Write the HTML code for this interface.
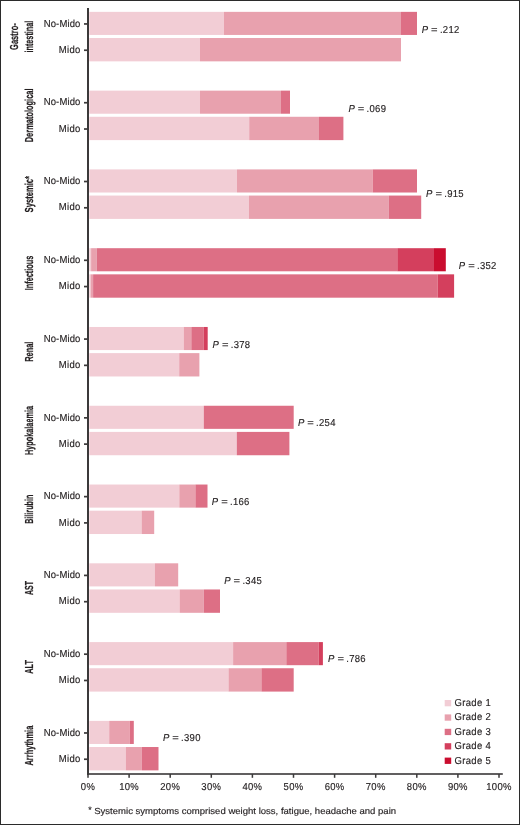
<!DOCTYPE html>
<html><head><meta charset="utf-8"><style>
html,body{margin:0;padding:0;background:#fff;}
body{width:520px;height:825px;overflow:hidden;position:relative;}
svg{display:block;position:absolute;left:0;top:0;will-change:transform;}
text{text-rendering:geometricPrecision;font-family:"Liberation Sans",sans-serif;fill:#231f20;stroke:#231f20;stroke-width:0.15px;}
</style></head><body>
<svg width="520" height="825" viewBox="0 0 520 825">
<rect x="0" y="0" width="520" height="825" fill="#fff"/>

<rect x="89.3" y="11.85" width="134.7" height="23.1" fill="#f2cdd5"/>
<rect x="224" y="11.85" width="177" height="23.1" fill="#e8a1ae"/>
<rect x="401" y="11.85" width="16" height="23.1" fill="#dd6f85"/>
<rect x="89.3" y="38" width="110.7" height="23.35" fill="#f2cdd5"/>
<rect x="200" y="38" width="201" height="23.35" fill="#e8a1ae"/>
<rect x="84.0" y="23.1" width="3.8" height="1.7" fill="#3b393a"/>
<rect x="84.0" y="49.38" width="3.8" height="1.7" fill="#3b393a"/>
<text transform="translate(80.6 26.6) scale(0.94 1)" font-size="10.1" letter-spacing="0.32" text-anchor="end" textLength="39.21" lengthAdjust="spacing">No-Mido</text>
<text transform="translate(80.6 52.88) scale(0.94 1)" font-size="10.1" letter-spacing="0.32" text-anchor="end">Mido</text>
<text transform="translate(421.7 32.6) scale(0.94 1)" font-size="10.1" letter-spacing="0.32" font-style="italic">P</text>
<text transform="translate(431.1 32.6) scale(1.11 1)" font-size="10.1" letter-spacing="0.32">=</text>
<text transform="translate(439.9 32.6) scale(0.94 1)" font-size="10.1" letter-spacing="0.32">.212</text>
<text transform="translate(17.8 36.6) rotate(-90)" font-size="11.6" font-weight="bold" text-anchor="middle" style="stroke-width:0.22px" textLength="26.6" lengthAdjust="spacingAndGlyphs">Gastro-</text>
<text transform="translate(32.8 36.6) rotate(-90)" font-size="11.6" font-weight="bold" text-anchor="middle" style="stroke-width:0.22px" textLength="32" lengthAdjust="spacingAndGlyphs">intestinal</text>
<rect x="89.3" y="90.63" width="110.7" height="23.1" fill="#f2cdd5"/>
<rect x="200" y="90.63" width="81" height="23.1" fill="#e8a1ae"/>
<rect x="281" y="90.63" width="9" height="23.1" fill="#dd6f85"/>
<rect x="89.3" y="116.78" width="159.9" height="23.35" fill="#f2cdd5"/>
<rect x="249.2" y="116.78" width="69.8" height="23.35" fill="#e8a1ae"/>
<rect x="319" y="116.78" width="24.4" height="23.35" fill="#dd6f85"/>
<rect x="84.0" y="101.88" width="3.8" height="1.7" fill="#3b393a"/>
<rect x="84.0" y="128.16" width="3.8" height="1.7" fill="#3b393a"/>
<text transform="translate(80.6 105.38) scale(0.94 1)" font-size="10.1" letter-spacing="0.32" text-anchor="end" textLength="39.21" lengthAdjust="spacing">No-Mido</text>
<text transform="translate(80.6 131.65) scale(0.94 1)" font-size="10.1" letter-spacing="0.32" text-anchor="end">Mido</text>
<text transform="translate(348.4 111.53) scale(0.94 1)" font-size="10.1" letter-spacing="0.32" font-style="italic">P</text>
<text transform="translate(357.8 111.53) scale(1.11 1)" font-size="10.1" letter-spacing="0.32">=</text>
<text transform="translate(366.6 111.53) scale(0.94 1)" font-size="10.1" letter-spacing="0.32">.069</text>
<text transform="translate(32.8 115.38) rotate(-90)" font-size="11.6" font-weight="bold" text-anchor="middle" style="stroke-width:0.22px" textLength="53.8" lengthAdjust="spacingAndGlyphs">Dermatological</text>
<rect x="89.3" y="169.41" width="147.7" height="23.1" fill="#f2cdd5"/>
<rect x="237" y="169.41" width="135.7" height="23.1" fill="#e8a1ae"/>
<rect x="372.7" y="169.41" width="44.3" height="23.1" fill="#dd6f85"/>
<rect x="89.3" y="195.56" width="159.7" height="23.35" fill="#f2cdd5"/>
<rect x="249" y="195.56" width="139.8" height="23.35" fill="#e8a1ae"/>
<rect x="388.8" y="195.56" width="32.4" height="23.35" fill="#dd6f85"/>
<rect x="84.0" y="180.66" width="3.8" height="1.7" fill="#3b393a"/>
<rect x="84.0" y="206.94" width="3.8" height="1.7" fill="#3b393a"/>
<text transform="translate(80.6 184.16) scale(0.94 1)" font-size="10.1" letter-spacing="0.32" text-anchor="end" textLength="39.21" lengthAdjust="spacing">No-Mido</text>
<text transform="translate(80.6 210.44) scale(0.94 1)" font-size="10.1" letter-spacing="0.32" text-anchor="end">Mido</text>
<text transform="translate(426 196.86) scale(0.94 1)" font-size="10.1" letter-spacing="0.32" font-style="italic">P</text>
<text transform="translate(435.4 196.86) scale(1.11 1)" font-size="10.1" letter-spacing="0.32">=</text>
<text transform="translate(444.2 196.86) scale(0.94 1)" font-size="10.1" letter-spacing="0.32">.915</text>
<text transform="translate(32.8 194.16) rotate(-90)" font-size="11.6" font-weight="bold" text-anchor="middle" style="stroke-width:0.22px" textLength="36.5" lengthAdjust="spacingAndGlyphs">Systemic*</text>
<rect x="89.3" y="248.19" width="1.8" height="23.1" fill="#f2cdd5"/>
<rect x="91.1" y="248.19" width="5.7" height="23.1" fill="#e8a1ae"/>
<rect x="96.8" y="248.19" width="300.5" height="23.1" fill="#dd6f85"/>
<rect x="397.3" y="248.19" width="36.7" height="23.1" fill="#d43f5d"/>
<rect x="434" y="248.19" width="11.8" height="23.1" fill="#ca0d2f"/>
<rect x="89.3" y="274.34" width="1.3" height="23.35" fill="#f2cdd5"/>
<rect x="90.6" y="274.34" width="2.5" height="23.35" fill="#e8a1ae"/>
<rect x="93.1" y="274.34" width="344.5" height="23.35" fill="#dd6f85"/>
<rect x="437.6" y="274.34" width="16.5" height="23.35" fill="#d43f5d"/>
<rect x="84.0" y="259.44" width="3.8" height="1.7" fill="#3b393a"/>
<rect x="84.0" y="285.71" width="3.8" height="1.7" fill="#3b393a"/>
<text transform="translate(80.6 262.94) scale(0.94 1)" font-size="10.1" letter-spacing="0.32" text-anchor="end" textLength="39.21" lengthAdjust="spacing">No-Mido</text>
<text transform="translate(80.6 289.21) scale(0.94 1)" font-size="10.1" letter-spacing="0.32" text-anchor="end">Mido</text>
<text transform="translate(458.8 268.59) scale(0.94 1)" font-size="10.1" letter-spacing="0.32" font-style="italic">P</text>
<text transform="translate(468.2 268.59) scale(1.11 1)" font-size="10.1" letter-spacing="0.32">=</text>
<text transform="translate(477 268.59) scale(0.94 1)" font-size="10.1" letter-spacing="0.32">.352</text>
<text transform="translate(32.8 272.94) rotate(-90)" font-size="11.6" font-weight="bold" text-anchor="middle" style="stroke-width:0.22px" textLength="34.5" lengthAdjust="spacingAndGlyphs">Infectious</text>
<rect x="89.3" y="326.97" width="94.4" height="23.1" fill="#f2cdd5"/>
<rect x="183.7" y="326.97" width="7.6" height="23.1" fill="#e8a1ae"/>
<rect x="191.3" y="326.97" width="12.5" height="23.1" fill="#dd6f85"/>
<rect x="203.8" y="326.97" width="3.9" height="23.1" fill="#d43f5d"/>
<rect x="89.3" y="353.12" width="89.9" height="23.35" fill="#f2cdd5"/>
<rect x="179.2" y="353.12" width="20.2" height="23.35" fill="#e8a1ae"/>
<rect x="84.0" y="338.22" width="3.8" height="1.7" fill="#3b393a"/>
<rect x="84.0" y="364.5" width="3.8" height="1.7" fill="#3b393a"/>
<text transform="translate(80.6 341.72) scale(0.94 1)" font-size="10.1" letter-spacing="0.32" text-anchor="end" textLength="39.21" lengthAdjust="spacing">No-Mido</text>
<text transform="translate(80.6 368) scale(0.94 1)" font-size="10.1" letter-spacing="0.32" text-anchor="end">Mido</text>
<text transform="translate(212.5 347.52) scale(0.94 1)" font-size="10.1" letter-spacing="0.32" font-style="italic">P</text>
<text transform="translate(221.9 347.52) scale(1.11 1)" font-size="10.1" letter-spacing="0.32">=</text>
<text transform="translate(230.7 347.52) scale(0.94 1)" font-size="10.1" letter-spacing="0.32">.378</text>
<text transform="translate(32.8 351.72) rotate(-90)" font-size="11.6" font-weight="bold" text-anchor="middle" style="stroke-width:0.22px" textLength="20.3" lengthAdjust="spacingAndGlyphs">Renal</text>
<rect x="89.3" y="405.75" width="114.5" height="23.1" fill="#f2cdd5"/>
<rect x="203.8" y="405.75" width="89.9" height="23.1" fill="#dd6f85"/>
<rect x="89.3" y="431.9" width="147.5" height="23.35" fill="#f2cdd5"/>
<rect x="236.8" y="431.9" width="52.6" height="23.35" fill="#dd6f85"/>
<rect x="84.0" y="417" width="3.8" height="1.7" fill="#3b393a"/>
<rect x="84.0" y="443.27" width="3.8" height="1.7" fill="#3b393a"/>
<text transform="translate(80.6 420.5) scale(0.94 1)" font-size="10.1" letter-spacing="0.32" text-anchor="end" textLength="39.21" lengthAdjust="spacing">No-Mido</text>
<text transform="translate(80.6 446.77) scale(0.94 1)" font-size="10.1" letter-spacing="0.32" text-anchor="end">Mido</text>
<text transform="translate(297.9 425.65) scale(0.94 1)" font-size="10.1" letter-spacing="0.32" font-style="italic">P</text>
<text transform="translate(307.3 425.65) scale(1.11 1)" font-size="10.1" letter-spacing="0.32">=</text>
<text transform="translate(316.1 425.65) scale(0.94 1)" font-size="10.1" letter-spacing="0.32">.254</text>
<text transform="translate(32.8 430.5) rotate(-90)" font-size="11.6" font-weight="bold" text-anchor="middle" style="stroke-width:0.22px" textLength="49" lengthAdjust="spacingAndGlyphs">Hypokalaemia</text>
<rect x="89.3" y="484.53" width="90" height="23.1" fill="#f2cdd5"/>
<rect x="179.3" y="484.53" width="16.1" height="23.1" fill="#e8a1ae"/>
<rect x="195.4" y="484.53" width="12.1" height="23.1" fill="#dd6f85"/>
<rect x="89.3" y="510.68" width="52.3" height="23.35" fill="#f2cdd5"/>
<rect x="141.6" y="510.68" width="12.6" height="23.35" fill="#e8a1ae"/>
<rect x="84.0" y="495.78" width="3.8" height="1.7" fill="#3b393a"/>
<rect x="84.0" y="522.05" width="3.8" height="1.7" fill="#3b393a"/>
<text transform="translate(80.6 499.28) scale(0.94 1)" font-size="10.1" letter-spacing="0.32" text-anchor="end" textLength="39.21" lengthAdjust="spacing">No-Mido</text>
<text transform="translate(80.6 525.56) scale(0.94 1)" font-size="10.1" letter-spacing="0.32" text-anchor="end">Mido</text>
<text transform="translate(211.8 504.98) scale(0.94 1)" font-size="10.1" letter-spacing="0.32" font-style="italic">P</text>
<text transform="translate(221.2 504.98) scale(1.11 1)" font-size="10.1" letter-spacing="0.32">=</text>
<text transform="translate(230 504.98) scale(0.94 1)" font-size="10.1" letter-spacing="0.32">.166</text>
<text transform="translate(32.8 509.28) rotate(-90)" font-size="11.6" font-weight="bold" text-anchor="middle" style="stroke-width:0.22px" textLength="29.1" lengthAdjust="spacingAndGlyphs">Bilirubin</text>
<rect x="89.3" y="563.31" width="65.5" height="23.1" fill="#f2cdd5"/>
<rect x="154.8" y="563.31" width="23.4" height="23.1" fill="#e8a1ae"/>
<rect x="89.3" y="589.46" width="90.3" height="23.35" fill="#f2cdd5"/>
<rect x="179.6" y="589.46" width="24.2" height="23.35" fill="#e8a1ae"/>
<rect x="203.8" y="589.46" width="16.2" height="23.35" fill="#dd6f85"/>
<rect x="84.0" y="574.56" width="3.8" height="1.7" fill="#3b393a"/>
<rect x="84.0" y="600.84" width="3.8" height="1.7" fill="#3b393a"/>
<text transform="translate(80.6 578.06) scale(0.94 1)" font-size="10.1" letter-spacing="0.32" text-anchor="end" textLength="39.21" lengthAdjust="spacing">No-Mido</text>
<text transform="translate(80.6 604.34) scale(0.94 1)" font-size="10.1" letter-spacing="0.32" text-anchor="end">Mido</text>
<text transform="translate(224.2 583.51) scale(0.94 1)" font-size="10.1" letter-spacing="0.32" font-style="italic">P</text>
<text transform="translate(233.6 583.51) scale(1.11 1)" font-size="10.1" letter-spacing="0.32">=</text>
<text transform="translate(242.4 583.51) scale(0.94 1)" font-size="10.1" letter-spacing="0.32">.345</text>
<text transform="translate(32.8 588.06) rotate(-90)" font-size="11.6" font-weight="bold" text-anchor="middle" style="stroke-width:0.22px" textLength="13.9" lengthAdjust="spacingAndGlyphs">AST</text>
<rect x="89.3" y="642.09" width="143.8" height="23.1" fill="#f2cdd5"/>
<rect x="233.1" y="642.09" width="53.2" height="23.1" fill="#e8a1ae"/>
<rect x="286.3" y="642.09" width="32.3" height="23.1" fill="#dd6f85"/>
<rect x="318.6" y="642.09" width="4.3" height="23.1" fill="#d43f5d"/>
<rect x="89.3" y="668.24" width="139.2" height="23.35" fill="#f2cdd5"/>
<rect x="228.5" y="668.24" width="32.9" height="23.35" fill="#e8a1ae"/>
<rect x="261.4" y="668.24" width="32.3" height="23.35" fill="#dd6f85"/>
<rect x="84.0" y="653.34" width="3.8" height="1.7" fill="#3b393a"/>
<rect x="84.0" y="679.62" width="3.8" height="1.7" fill="#3b393a"/>
<text transform="translate(80.6 656.84) scale(0.94 1)" font-size="10.1" letter-spacing="0.32" text-anchor="end" textLength="39.21" lengthAdjust="spacing">No-Mido</text>
<text transform="translate(80.6 683.12) scale(0.94 1)" font-size="10.1" letter-spacing="0.32" text-anchor="end">Mido</text>
<text transform="translate(328 662.2) scale(0.94 1)" font-size="10.1" letter-spacing="0.32" font-style="italic">P</text>
<text transform="translate(337.4 662.2) scale(1.11 1)" font-size="10.1" letter-spacing="0.32">=</text>
<text transform="translate(346.2 662.2) scale(0.94 1)" font-size="10.1" letter-spacing="0.32">.786</text>
<text transform="translate(32.8 666.84) rotate(-90)" font-size="11.6" font-weight="bold" text-anchor="middle" style="stroke-width:0.22px" textLength="13.8" lengthAdjust="spacingAndGlyphs">ALT</text>
<rect x="89.3" y="720.87" width="19.9" height="23.1" fill="#f2cdd5"/>
<rect x="109.2" y="720.87" width="20.5" height="23.1" fill="#e8a1ae"/>
<rect x="129.7" y="720.87" width="4.1" height="23.1" fill="#dd6f85"/>
<rect x="89.3" y="747.02" width="36.5" height="23.35" fill="#f2cdd5"/>
<rect x="125.8" y="747.02" width="16.1" height="23.35" fill="#e8a1ae"/>
<rect x="141.9" y="747.02" width="16.6" height="23.35" fill="#dd6f85"/>
<rect x="84.0" y="732.12" width="3.8" height="1.7" fill="#3b393a"/>
<rect x="84.0" y="758.39" width="3.8" height="1.7" fill="#3b393a"/>
<text transform="translate(80.6 735.62) scale(0.94 1)" font-size="10.1" letter-spacing="0.32" text-anchor="end" textLength="39.21" lengthAdjust="spacing">No-Mido</text>
<text transform="translate(80.6 761.9) scale(0.94 1)" font-size="10.1" letter-spacing="0.32" text-anchor="end">Mido</text>
<text transform="translate(162.9 741.27) scale(0.94 1)" font-size="10.1" letter-spacing="0.32" font-style="italic">P</text>
<text transform="translate(172.3 741.27) scale(1.11 1)" font-size="10.1" letter-spacing="0.32">=</text>
<text transform="translate(181.1 741.27) scale(0.94 1)" font-size="10.1" letter-spacing="0.32">.390</text>
<text transform="translate(32.8 745.62) rotate(-90)" font-size="11.6" font-weight="bold" text-anchor="middle" style="stroke-width:0.22px" textLength="39.8" lengthAdjust="spacingAndGlyphs">Arrhythmia</text>
<rect x="87" y="8" width="2" height="767" fill="#3b393a"/>
<rect x="87" y="773.2" width="415.8" height="1.6" fill="#3b393a"/>
<rect x="87.25" y="774" width="1.5" height="3.8" fill="#3b393a"/>
<text transform="translate(88 789.9) scale(0.94 1)" font-size="10.1" letter-spacing="0.32" text-anchor="middle">0%</text>
<rect x="128.35" y="774" width="1.5" height="3.8" fill="#3b393a"/>
<text transform="translate(129.1 789.9) scale(0.94 1)" font-size="10.1" letter-spacing="0.32" text-anchor="middle">10%</text>
<rect x="169.45" y="774" width="1.5" height="3.8" fill="#3b393a"/>
<text transform="translate(170.2 789.9) scale(0.94 1)" font-size="10.1" letter-spacing="0.32" text-anchor="middle">20%</text>
<rect x="210.55" y="774" width="1.5" height="3.8" fill="#3b393a"/>
<text transform="translate(211.3 789.9) scale(0.94 1)" font-size="10.1" letter-spacing="0.32" text-anchor="middle">30%</text>
<rect x="251.65" y="774" width="1.5" height="3.8" fill="#3b393a"/>
<text transform="translate(252.4 789.9) scale(0.94 1)" font-size="10.1" letter-spacing="0.32" text-anchor="middle">40%</text>
<rect x="292.75" y="774" width="1.5" height="3.8" fill="#3b393a"/>
<text transform="translate(293.5 789.9) scale(0.94 1)" font-size="10.1" letter-spacing="0.32" text-anchor="middle">50%</text>
<rect x="333.85" y="774" width="1.5" height="3.8" fill="#3b393a"/>
<text transform="translate(334.6 789.9) scale(0.94 1)" font-size="10.1" letter-spacing="0.32" text-anchor="middle">60%</text>
<rect x="374.95" y="774" width="1.5" height="3.8" fill="#3b393a"/>
<text transform="translate(375.7 789.9) scale(0.94 1)" font-size="10.1" letter-spacing="0.32" text-anchor="middle">70%</text>
<rect x="416.05" y="774" width="1.5" height="3.8" fill="#3b393a"/>
<text transform="translate(416.8 789.9) scale(0.94 1)" font-size="10.1" letter-spacing="0.32" text-anchor="middle">80%</text>
<rect x="457.15" y="774" width="1.5" height="3.8" fill="#3b393a"/>
<text transform="translate(457.9 789.9) scale(0.94 1)" font-size="10.1" letter-spacing="0.32" text-anchor="middle">90%</text>
<rect x="498.25" y="774" width="1.5" height="3.8" fill="#3b393a"/>
<text transform="translate(499 789.9) scale(0.94 1)" font-size="10.1" letter-spacing="0.32" text-anchor="middle">100%</text>
<rect x="444.7" y="700" width="6.5" height="6.3" fill="#f2cdd5"/>
<text transform="translate(454.6 706) scale(0.94 1)" font-size="10.1" letter-spacing="0.32">Grade 1</text>
<rect x="444.7" y="714.4" width="6.5" height="6.3" fill="#e8a1ae"/>
<text transform="translate(454.6 720.4) scale(0.94 1)" font-size="10.1" letter-spacing="0.32">Grade 2</text>
<rect x="444.7" y="728.8" width="6.5" height="6.3" fill="#dd6f85"/>
<text transform="translate(454.6 734.8) scale(0.94 1)" font-size="10.1" letter-spacing="0.32">Grade 3</text>
<rect x="444.7" y="743.2" width="6.5" height="6.3" fill="#d43f5d"/>
<text transform="translate(454.6 749.2) scale(0.94 1)" font-size="10.1" letter-spacing="0.32">Grade 4</text>
<rect x="444.7" y="757.6" width="6.5" height="6.3" fill="#ca0d2f"/>
<text transform="translate(454.6 763.6) scale(0.94 1)" font-size="10.1" letter-spacing="0.32">Grade 5</text>
<text transform="translate(88.3 813.4) scale(0.94 1)" font-size="9.4" letter-spacing="0.32">*</text>
<text transform="translate(94.2 814.0) scale(0.94 1)" font-size="8.9" textLength="321.15" lengthAdjust="spacingAndGlyphs">Systemic symptoms comprised weight loss, fatigue, headache and pain</text>
<rect x="0.5" y="0.5" width="519" height="824" fill="none" stroke="#2b2b2b" stroke-width="1"/>
</svg>
</body></html>
